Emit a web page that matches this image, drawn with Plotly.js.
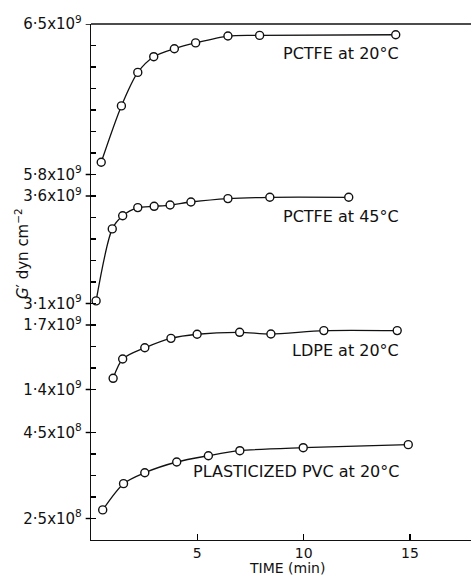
<!DOCTYPE html>
<html>
<head>
<meta charset="utf-8">
<script src="https://cdn.plot.ly/plotly-3.0.1.min.js"></script>
<style>html,body{margin:0;padding:0;background:#fff;}#chart{width:471px;height:575px;}</style>
</head>
<body>
<div id="chart"></div>
<script>
// Time (min)
const pctfe20_t = [0.48, 1.43, 2.2, 2.95, 3.92, 4.92, 6.44, 7.93, 14.33];
const pctfe20_G = [5.857e9, 6.119e9, 6.275e9, 6.348e9, 6.385e9, 6.412e9, 6.444e9, 6.447e9, 6.45e9];

const pctfe45_t = [0.24, 1.0, 1.49, 2.2, 2.97, 3.72, 4.7, 6.44, 8.41, 12.12];
const pctfe45_G = [3.112e9, 3.447e9, 3.508e9, 3.546e9, 3.552e9, 3.558e9, 3.572e9, 3.588e9, 3.594e9, 3.594e9];

const ldpe_t = [1.04, 1.49, 2.53, 3.76, 4.99, 6.99, 8.46, 10.95, 14.4];
const ldpe_G = [1.452e9, 1.542e9, 1.594e9, 1.638e9, 1.657e9, 1.666e9, 1.658e9, 1.674e9, 1.674e9];

const pvc_t = [0.55, 1.53, 2.53, 4.03, 5.52, 7.0, 9.98, 14.92];
const pvc_G = [2.70e8, 3.31e8, 3.565e8, 3.814e8, 3.96e8, 4.077e8, 4.147e8, 4.217e8];

const seriesLabels = ["PCTFE at 20°C", "PCTFE at 45°C", "LDPE at 20°C", "PLASTICIZED PVC at 20°C"];

const yTickVals = [[5.8e9, 6.5e9], [3.1e9, 3.6e9], [1.4e9, 1.7e9], [2.5e8, 4.5e8]];
const yTickText = [["5·8x10<sup>9</sup>", "6·5x10<sup>9</sup>"], ["3·1x10<sup>9</sup>", "3·6x10<sup>9</sup>"],
                   ["1·4x10<sup>9</sup>", "1·7x10<sup>9</sup>"], ["2·5x10<sup>8</sup>", "4·5x10<sup>8</sup>"]];
const yMinorVals = [
  [5.9e9, 6.0e9, 6.1e9, 6.2e9, 6.3e9, 6.4e9],
  [3.2e9, 3.3e9, 3.4e9, 3.5e9],
  [1.5e9, 1.6e9],
  [3.0e8, 3.5e8, 4.0e8]
];
const xTickVals = [5, 10, 15];

const FONT = "DejaVu Sans, sans-serif";
function trace(t, g, ax) {
  return {
    x: t, y: g, yaxis: ax, xaxis: 'x', type: 'scatter', mode: 'lines+markers',
    line: {color: '#111', width: 1.3, shape: 'spline', smoothing: 0.8},
    marker: {symbol: 'circle', size: 8, color: '#fff', line: {color: '#111', width: 1.4}},
    showlegend: false, hoverinfo: 'skip'
  };
}
const data = [
  trace(pctfe20_t, pctfe20_G, 'y'),
  trace(pctfe45_t, pctfe45_G, 'y2'),
  trace(ldpe_t, ldpe_G, 'y3'),
  trace(pvc_t, pvc_G, 'y4')
];

const domains = [[0.6875, 1], [0.4375, 0.6875], [0.25, 0.4375], [0, 0.25]];
const ranges = [[5.75e9, 6.5e9], [3.05e9, 3.65e9], [1.3e9, 1.75e9], [2.0e8, 5.0e8]];

function yax(i) {
  const vals = yTickVals[i].concat(yMinorVals[i]);
  const txt = yTickText[i].concat(yMinorVals[i].map(() => ''));
  return {
    domain: domains[i], range: ranges[i], anchor: 'x',
    tickmode: 'array', tickvals: vals, ticktext: txt,
    ticks: 'inside', ticklen: 5, tickwidth: 1.4, tickcolor: '#000',
    ticklabelstandoff: 5,
    showline: true, linecolor: '#111', linewidth: 1.2,
    showgrid: false, zeroline: false,
    tickfont: {family: FONT, size: 15, color: '#111'}
  };
}

// short outer dashes at the labelled ticks
const axNames = ['y', 'y2', 'y3', 'y4'];
const dashShapes = [];
axNames.forEach((a, i) => yTickVals[i].forEach(v => dashShapes.push(
  {type: 'line', xref: 'paper', yref: a, x0: -0.014, x1: 0, y0: v, y1: v, line: {color: '#000', width: 1.4}}
)));

const layout = {
  width: 471, height: 575,
  margin: {l: 91, r: 0, t: 24, b: 35},
  paper_bgcolor: '#fff', plot_bgcolor: '#fff',
  xaxis: {
    range: [0, 17.87], anchor: 'y4', domain: [0, 1],
    tickmode: 'array', tickvals: xTickVals, ticktext: xTickVals.map(String),
    ticks: 'inside', ticklen: 6, tickwidth: 1.4, tickcolor: '#000',
    showline: true, linecolor: '#111', linewidth: 1.2,
    showgrid: false, zeroline: false,
    tickfont: {family: FONT, size: 14, color: '#111'}
  },
  yaxis: yax(0), yaxis2: yax(1), yaxis3: yax(2), yaxis4: yax(3),
  shapes: [
    {type: 'line', xref: 'paper', yref: 'paper', x0: 0, x1: 1, y0: 1, y1: 1, line: {color: '#111', width: 1.5}}
  ].concat(dashShapes),
  annotations: [
    {text: seriesLabels[0], xref: 'x', yref: 'y', x: 14.6, y: 6.365e9, xanchor: 'right', yanchor: 'middle', showarrow: false, font: {family: FONT, size: 16, color: '#111'}},
    {text: seriesLabels[1], xref: 'x', yref: 'y2', x: 14.6, y: 3.507e9, xanchor: 'right', yanchor: 'middle', showarrow: false, font: {family: FONT, size: 16, color: '#111'}},
    {text: seriesLabels[2], xref: 'x', yref: 'y3', x: 14.6, y: 1.581e9, xanchor: 'right', yanchor: 'middle', showarrow: false, font: {family: FONT, size: 16, color: '#111'}},
    {text: seriesLabels[3], xref: 'x', yref: 'y4', x: 14.6, y: 3.6e8, xanchor: 'right', yanchor: 'middle', showarrow: false, font: {family: FONT, size: 16, color: '#111'}},
    {text: "<i>G</i>′ dyn cm<sup>−2</sup>", xref: 'paper', yref: 'paper', x: -0.1816, y: 0.556, textangle: -90, xanchor: 'center', yanchor: 'middle', showarrow: false, font: {family: FONT, size: 15, color: '#111'}},
    {text: "TIME (min)", xref: 'x', yref: 'paper', x: 9.2, y: -0.0543, xanchor: 'center', yanchor: 'middle', showarrow: false, font: {family: FONT, size: 14, color: '#111'}}
  ]
};

Plotly.newPlot('chart', data, layout, {staticPlot: true, displayModeBar: false});
</script>
</body>
</html>
